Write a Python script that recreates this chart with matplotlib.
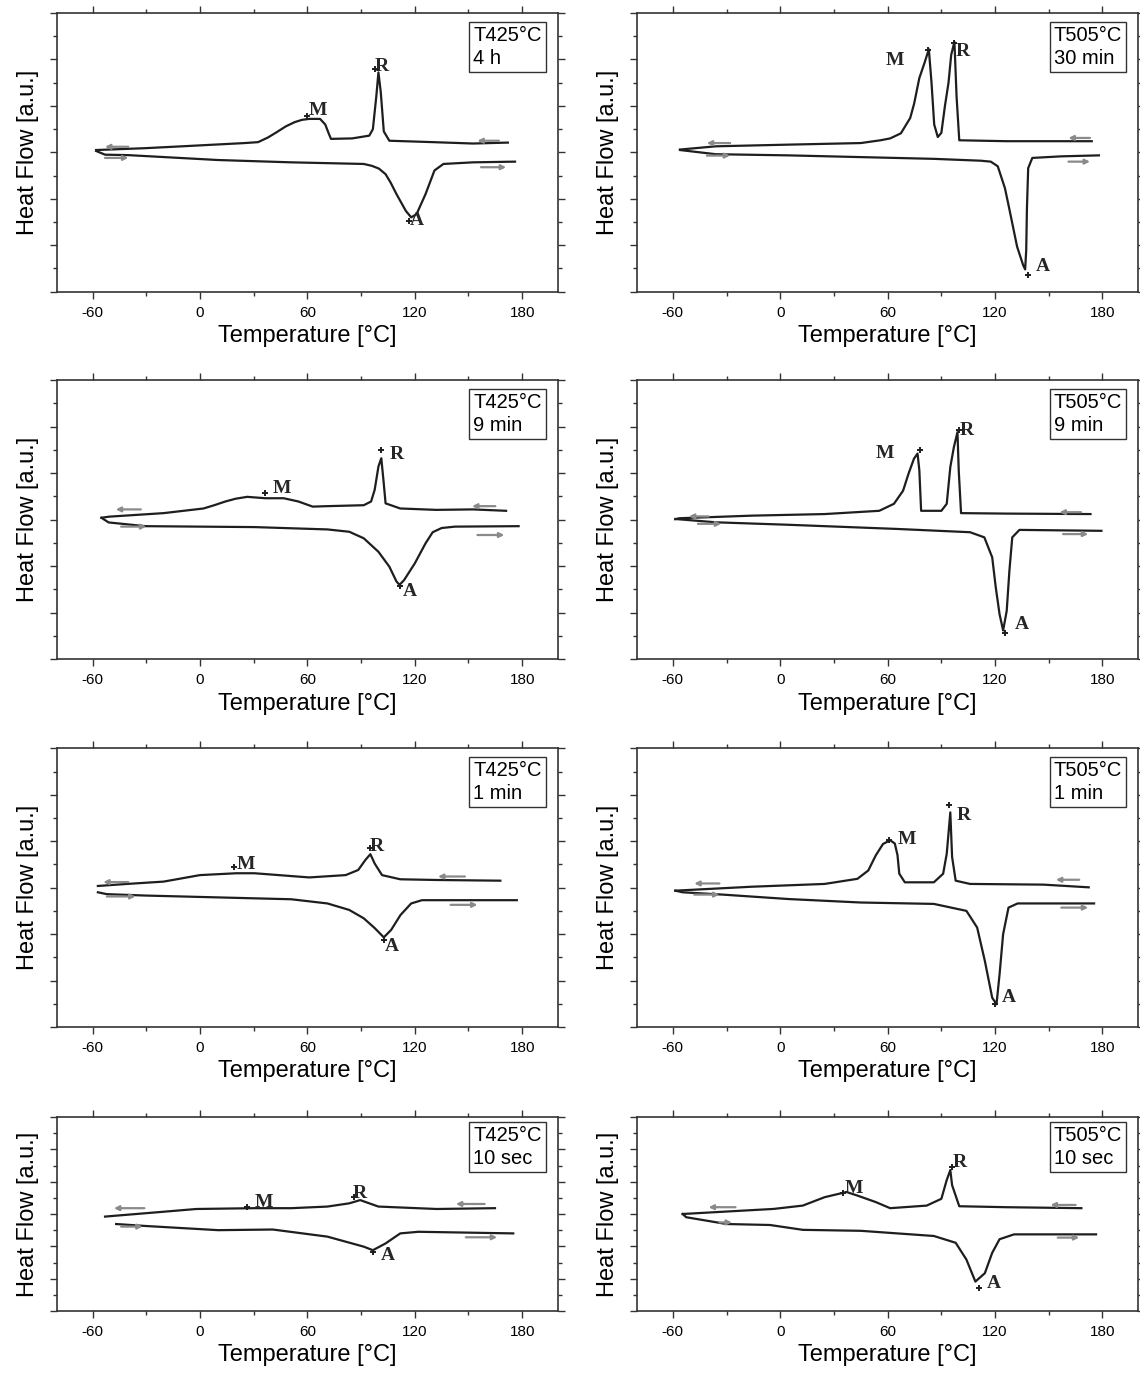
import matplotlib
matplotlib.use("Agg")
from matplotlib import pyplot as plt
from matplotlib.ticker import MultipleLocator

plt.rcParams["font.family"] = ["Liberation Sans", "DejaVu Sans"]
plt.rcParams["axes.unicode_minus"] = False

# DSC curves, T in °C, heat flow in arbitrary units (0 = baseline at the left)
# --- T425°C, 4 h
a_cool_T = [-58, -30.5, -10, 10, 25, 32.5, 38, 42.7, 48, 52.9, 57, 61, 67.1, 70, 72, 73.2, 85, 94.6, 96.6, 98.5, 99.7, 101, 102.7, 105.8, 130, 152.5, 172]
a_cool_y = [0.05, 0.09, 0.13, 0.17, 0.2, 0.22, 0.32, 0.43, 0.56, 0.65, 0.7, 0.72, 0.72, 0.6, 0.4, 0.29, 0.3, 0.36, 0.5, 1.2, 1.72, 1.3, 0.45, 0.25, 0.22, 0.19, 0.21]
a_heat_T = [-58, -53, -40, 10, 51, 91.5, 96, 100, 103.7, 106.5, 109.8, 115, 118, 121, 126, 131, 136, 152.5, 176]
a_heat_y = [0.03, -0.05, -0.06, -0.165, -0.215, -0.25, -0.29, -0.35, -0.47, -0.65, -0.9, -1.26, -1.40, -1.33, -0.9, -0.39, -0.25, -0.215, -0.2]
# --- T505°C, 30 min
b_cool_T = [-56, -36, 4.5, 45, 56, 61.4, 67.4, 72.6, 74.8, 77.7, 80.8, 83, 84.5, 86, 88, 90, 92, 94, 95.5, 97.3, 98.5, 100, 126.5, 174]
b_cool_y = [0.06, 0.13, 0.166, 0.2, 0.26, 0.3, 0.41, 0.74, 1.05, 1.6, 1.95, 2.22, 1.5, 0.6, 0.33, 0.42, 1.0, 1.5, 2.1, 2.38, 1.2, 0.26, 0.24, 0.24]
b_heat_T = [-56, -36, 4.5, 85.8, 112, 117.6, 121.5, 125.5, 127.7, 130, 132.3, 135.7, 136.8, 137.4, 137.8, 138.5, 140.8, 157, 178]
b_heat_y = [0.05, -0.04, -0.065, -0.14, -0.18, -0.2, -0.3, -0.77, -1.17, -1.6, -2.03, -2.43, -2.52, -2.1, -1.2, -0.34, -0.12, -0.086, -0.065]
# --- T425°C, 9 min
c_cool_T = [-55, -50.8, -20.3, 2, 8, 14.2, 20, 26.4, 36.6, 46.8, 55, 63, 71.2, 91.5, 95.6, 97.6, 99.7, 101.3, 102.5, 103.7, 111.9, 132, 152.5, 171]
c_cool_y = [0.04, 0.064, 0.14, 0.24, 0.31, 0.39, 0.45, 0.49, 0.46, 0.46, 0.39, 0.28, 0.29, 0.31, 0.39, 0.64, 1.14, 1.32, 0.85, 0.35, 0.24, 0.21, 0.22, 0.19]
c_heat_T = [-55, -51, -30.5, 30.5, 71.2, 83.4, 91.5, 99.7, 105.8, 109.8, 111.5, 114, 120, 126, 130, 135, 142.4, 178]
c_heat_y = [0.04, -0.06, -0.14, -0.16, -0.21, -0.26, -0.4, -0.69, -1.01, -1.33, -1.40, -1.3, -0.94, -0.51, -0.27, -0.18, -0.15, -0.14]
# --- T505°C, 9 min
d_cool_T = [-58.6, -56.5, -15.9, 24.8, 55.3, 63.5, 68.6, 71.6, 74.7, 76.7, 77.7, 78.7, 90, 93, 95, 97, 99, 99.7, 101, 126.5, 173.3]
d_cool_y = [0.01, 0.03, 0.086, 0.12, 0.19, 0.34, 0.62, 0.98, 1.31, 1.42, 1.06, 0.19, 0.19, 0.34, 1.13, 1.56, 1.88, 1.06, 0.14, 0.13, 0.12]
d_heat_T = [-58.6, -36, 4.5, 65.5, 106, 114, 118.4, 120.4, 122.5, 124.5, 126.5, 128, 129.6, 133.6, 179.4]
d_heat_y = [0.014, -0.057, -0.11, -0.2, -0.27, -0.38, -0.81, -1.46, -2.03, -2.38, -1.96, -1.1, -0.38, -0.22, -0.24]
# --- T425°C, 1 min
e_cool_T = [-57, -40.7, -20.3, 0, 20.3, 30.5, 61, 81.4, 88.4, 92.5, 95.2, 97.6, 101.7, 111.9, 132.2, 167.8]
e_cool_y = [0.036, 0.08, 0.13, 0.27, 0.31, 0.31, 0.22, 0.27, 0.38, 0.6, 0.72, 0.52, 0.27, 0.18, 0.165, 0.15]
e_heat_T = [-57, -52, -30.5, 10.2, 51, 71.2, 83.4, 91.5, 97.6, 102.7, 106.8, 112, 118, 124, 177]
e_heat_y = [-0.1, -0.14, -0.17, -0.21, -0.25, -0.34, -0.48, -0.66, -0.87, -1.07, -0.91, -0.59, -0.34, -0.27, -0.27]
# --- T505°C, 1 min
f_cool_T = [-58.6, -15.9, 24.8, 43.1, 49.2, 53.3, 57.4, 61.4, 64, 65.5, 66.5, 69.6, 85.8, 91, 93, 95, 96, 98, 106, 147, 172.3]
f_cool_y = [-0.065, 0.02, 0.08, 0.19, 0.37, 0.69, 0.94, 1.02, 0.95, 0.7, 0.3, 0.115, 0.115, 0.3, 0.73, 1.62, 0.66, 0.15, 0.08, 0.065, 0.007]
f_heat_T = [-58.6, -54.5, -32, 4.5, 45, 85.8, 104, 110, 114.3, 118.4, 120.8, 122.5, 124.5, 127.5, 132.6, 175.3]
f_heat_y = [-0.065, -0.1, -0.15, -0.245, -0.32, -0.35, -0.5, -0.86, -1.58, -2.37, -2.51, -1.87, -1.0, -0.43, -0.34, -0.34]
# --- T425°C, 10 sec
g_cool_T = [-53, -20.3, -2, 30.5, 51, 71.2, 83.4, 89.5, 99.7, 132.2, 164.8]
g_cool_y = [-0.08, 0.07, 0.155, 0.18, 0.18, 0.23, 0.33, 0.43, 0.23, 0.155, 0.18]
g_heat_T = [-46.8, -30.5, 10.2, 40.7, 71.2, 91.5, 96.6, 103.7, 111.9, 122, 175]
g_heat_y = [-0.31, -0.37, -0.5, -0.48, -0.7, -1.01, -1.12, -0.91, -0.6, -0.55, -0.6]
# --- T505°C, 10 sec
h_cool_T = [-54.5, -32, -3.7, 12.6, 24.8, 37, 43.1, 53.3, 61.4, 81.8, 90, 93, 95, 96, 100, 126.5, 168.2]
h_cool_y = [0.0, 0.07, 0.157, 0.26, 0.52, 0.68, 0.57, 0.37, 0.18, 0.26, 0.47, 1.05, 1.36, 0.89, 0.24, 0.21, 0.18]
h_heat_T = [-54.5, -52.5, -30, -5.7, 12.6, 45, 85.8, 98, 104, 109, 114.3, 118.4, 122.5, 130.6, 176.4]
h_heat_y = [0.0, -0.1, -0.31, -0.34, -0.49, -0.52, -0.68, -0.89, -1.41, -2.09, -1.83, -1.2, -0.78, -0.63, -0.63]

titles = ["T425°C\n4 h", "T505°C\n30 min", "T425°C\n9 min", "T505°C\n9 min",
          "T425°C\n1 min", "T505°C\n1 min", "T425°C\n10 sec", "T505°C\n10 sec"]

# peak labels: (T, y) of the text and of the little marker
M_text = [(65.7, 0.91), (64.1, 1.98), (45.8, 0.67), (58.4, 1.42), (25.4, 0.49), (70.6, 1.03), (35.6, 0.35), (41.1, 0.8)]
M_mark = [(60, 0.79), (82.8, 2.2), (36.6, 0.57), (78.1, 1.5), (19.3, 0.44), (61, 1.03), (26.4, 0.23), (35, 0.65)]
R_text = [(101.7, 1.85), (102, 2.18), (109.8, 1.39), (104.1, 1.92), (98.7, 0.88), (102.5, 1.56), (89.5, 0.64), (100.1, 1.59)]
R_mark = [(97.6, 1.79), (97, 2.36), (101.3, 1.5), (99.7, 1.92), (95.2, 0.85), (94, 1.77), (85.8, 0.54), (96, 1.46)]
A_text = [(121, -1.47), (146.9, -2.46), (117, -1.55), (134.7, -2.25), (107.4, -1.27), (127.5, -2.37), (104.8, -1.27), (119.4, -2.14)]
A_mark = [(117, -1.47), (138.3, -2.64), (111.9, -1.42), (125.5, -2.43), (102.7, -1.13), (120, -2.51), (96.6, -1.17), (111.3, -2.3)]

# direction arrows: (T tail, T head, y)
arrows = [
    [(-40, -53, 0.12), (167, 155, 0.25), (-53, -40, -0.12), (157, 171, -0.32)],
    [(-28, -41, 0.2), (173, 161, 0.31), (-41, -28, -0.07), (161, 173, -0.2)],
    [(-33, -47, 0.22), (165, 152, 0.29), (-44, -30, -0.15), (155, 170, -0.33)],
    [(-40, -51, 0.07), (168, 156, 0.16), (-46, -33, -0.09), (158, 172, -0.31)],
    [(-40, -54, 0.12), (148, 133, 0.24), (-52, -36, -0.19), (140, 155, -0.37)],
    [(-34, -48, 0.09), (167, 154, 0.17), (-48, -34, -0.15), (157, 172, -0.43)],
    [(-31, -48, 0.18), (159, 143, 0.31), (-44, -32, -0.39), (148.5, 166, -0.72)],
    [(-25, -40, 0.21), (165, 151, 0.28), (-34, -27, -0.26), (155, 167, -0.73)],
]

curves = [
    (a_cool_T, a_cool_y, a_heat_T, a_heat_y),
    (b_cool_T, b_cool_y, b_heat_T, b_heat_y),
    (c_cool_T, c_cool_y, c_heat_T, c_heat_y),
    (d_cool_T, d_cool_y, d_heat_T, d_heat_y),
    (e_cool_T, e_cool_y, e_heat_T, e_heat_y),
    (f_cool_T, f_cool_y, f_heat_T, f_heat_y),
    (g_cool_T, g_cool_y, g_heat_T, g_heat_y),
    (h_cool_T, h_cool_y, h_heat_T, h_heat_y),
]


def main():
    fig = plt.figure(figsize=(11.4, 13.74), dpi=100)
    W, H = 1140, 1374
    cols = [56.7, 637]
    col_w = 501.3
    rows = [(13, 291.7), (380, 659.3), (748.3, 1027), (1117, 1311)]
    serif = ["Liberation Serif", "DejaVu Serif"]

    for i, (cT, cy, hT, hy) in enumerate(curves):
        r, c = divmod(i, 2)
        top, bot = rows[r]
        ax = fig.add_axes([cols[c] / W, 1 - bot / H, col_w / W, (bot - top) / H])

        ax.plot(cT, cy, color="#1e1e1e", lw=1.6)
        ax.plot(hT, hy, color="#1e1e1e", lw=1.6)

        for xt, xh, ya in arrows[i]:
            ax.annotate("", xy=(xh, ya), xytext=(xt, ya),
                        arrowprops=dict(arrowstyle="-|>", color="#8a8a8a",
                                        lw=1.6, mutation_scale=7,
                                        shrinkA=0, shrinkB=0))

        for txt, tpos, mpos in (("M", M_text[i], M_mark[i]),
                                ("R", R_text[i], R_mark[i]),
                                ("A", A_text[i], A_mark[i])):
            ax.plot(*mpos, marker="+", color="#1e1e1e", ms=5, mew=1.4)
            ax.text(*tpos, txt, family=serif, fontsize=14, fontweight="bold",
                    color="#262626", ha="center", va="center")

        ax.text(0.968, 0.955, titles[i], transform=ax.transAxes, ha="right", va="top",
                fontsize=14.5, linespacing=1.3, multialignment="left",
                bbox=dict(boxstyle="square,pad=0.2", fc="white", ec="#333333", lw=1.0))

        ax.set_xlim(-80, 200)
        ax.set_ylim(-3, 3)
        ax.set_xticks([-60, 0, 60, 120, 180])
        ax.xaxis.set_minor_locator(MultipleLocator(30))
        ax.yaxis.set_major_locator(MultipleLocator(1))
        ax.yaxis.set_minor_locator(MultipleLocator(0.5))
        ax.tick_params(which="both", direction="out", top=True, right=True,
                       labelleft=False, width=1.0, color="#333333")
        ax.tick_params(which="major", length=5, labelsize=11, pad=5)
        ax.tick_params(which="minor", length=3)
        for s in ax.spines.values():
            s.set_linewidth(1.2)
            s.set_color("#333333")
        ax.set_xlabel("Temperature [°C]", fontsize=17, labelpad=4)
        ax.set_ylabel("Heat Flow [a.u.]", fontsize=17, labelpad=8)

    fig.savefig("out.png", dpi=100)


if __name__ == "__main__":
    main()
